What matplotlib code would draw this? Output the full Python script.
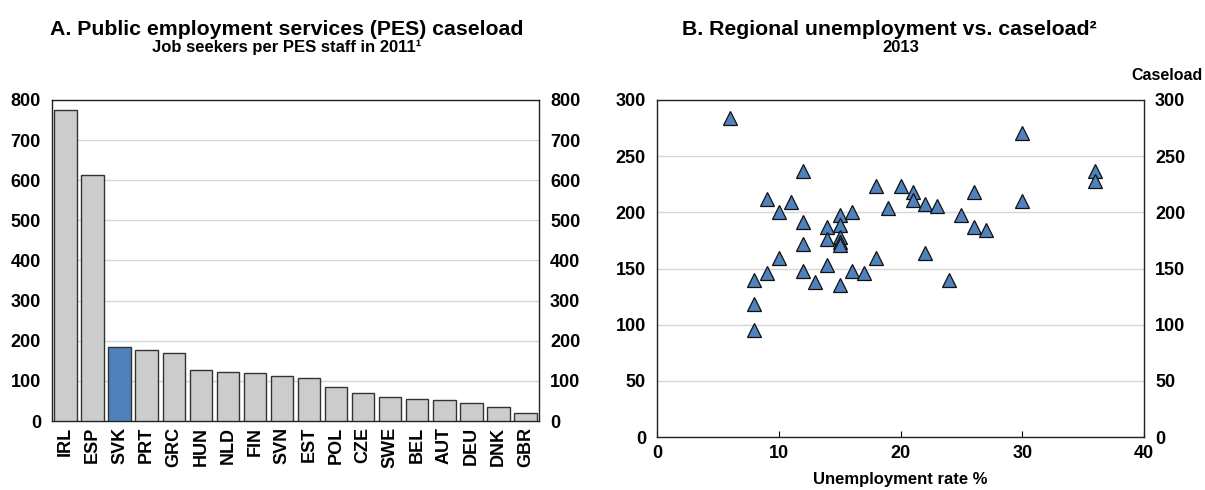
import matplotlib
matplotlib.use("Agg")
import matplotlib.pyplot as plt

plt.rcParams['font.family'] = ['Liberation Sans', 'DejaVu Sans']
plt.rcParams['font.weight'] = 'bold'

# Panel A data
countries = ["IRL", "ESP", "SVK", "PRT", "GRC", "HUN", "NLD", "FIN", "SVN", "EST",
             "POL", "CZE", "SWE", "BEL", "AUT", "DEU", "DNK", "GBR"]
caseload_pes = [776, 613, 185, 177, 169, 128, 123, 119, 111, 107,
                84, 70, 61, 54, 52, 46, 35, 20]
highlight = "SVK"

# Panel B data
unemp_rate = [6, 12, 9, 11, 10, 12, 14, 15, 15, 16, 14, 15, 15, 15, 12, 10, 14, 12, 16, 17,
              18, 9, 8, 13, 15, 8, 8, 18, 20, 19, 21, 21, 22, 23,
              30, 36, 36, 30, 25, 26, 26, 27, 22, 24]
regional_caseload = [284, 237, 212, 209, 200, 191, 187, 198, 189, 200, 176, 178, 174, 171, 172, 159, 153, 148, 148, 146,
                     159, 146, 140, 138, 135, 118, 95, 223, 223, 204, 218, 211, 207, 206,
                     271, 237, 228, 210, 198, 218, 187, 184, 164, 140]

GREY = "#cccccc"
BLUE = "#4f81bd"
GRID = "#d6d6d6"
W, H = 1205, 490
TICK_FS = 13

fig = plt.figure(figsize=(W / 100, H / 100), dpi=100)

# ---------- Panel A ----------
axA = fig.add_axes([52 / W, (H - 421) / H, (539 - 52) / W, (421 - 100) / H])
colors = [BLUE if c == highlight else GREY for c in countries]
axA.bar(range(len(countries)), caseload_pes, width=0.83, color=colors,
        edgecolor="#333333", linewidth=1.0, zorder=3)
axA.set_xlim(-0.5, len(countries) - 0.5)
axA.set_ylim(0, 800)
axA.set_yticks(range(0, 801, 100))
axA.set_xticks(range(len(countries)))
axA.set_xticklabels(countries, rotation=90, fontsize=TICK_FS, fontweight='bold')
axA.yaxis.grid(True, color=GRID, linewidth=1.0, zorder=0)
axA.set_axisbelow(True)
axA.tick_params(axis='both', length=0, labelsize=TICK_FS)
axA.tick_params(axis='y', labelright=True, right=False, pad=8)
axA.tick_params(axis='x', pad=4)
for lab in axA.get_yticklabels():
    lab.set_fontweight('bold')
for s in ['left', 'right', 'bottom', 'top']:
    axA.spines[s].set_color('#222222')
    axA.spines[s].set_linewidth(1.0)

fig.text(287 / W, 1 - 35 / H, "A. Public employment services (PES) caseload",
         ha='center', va='baseline', fontsize=15.3, fontweight='bold')
fig.text(287 / W, 1 - 52 / H, "Job seekers per PES staff in 2011¹",
         ha='center', va='baseline', fontsize=12, fontweight='bold')

# ---------- Panel B ----------
axB = fig.add_axes([657 / W, (H - 437) / H, (1144 - 657) / W, (437 - 100) / H])
axB.plot(unemp_rate, regional_caseload, linestyle='none', marker='^', markersize=10,
         markerfacecolor=BLUE, markeredgecolor='#111111', markeredgewidth=0.9, zorder=3)
axB.set_xlim(0, 40)
axB.set_ylim(0, 300)
axB.set_xticks(range(0, 41, 10))
axB.set_yticks(range(0, 301, 50))
axB.yaxis.grid(True, color=GRID, linewidth=1.0, zorder=0)
axB.set_axisbelow(True)
axB.tick_params(axis='y', length=0, labelsize=TICK_FS, labelright=True, pad=8)
axB.tick_params(axis='x', length=4, direction='in', labelsize=TICK_FS, pad=6)
for lab in axB.get_yticklabels() + axB.get_xticklabels():
    lab.set_fontweight('bold')
for s in ['left', 'right', 'bottom', 'top']:
    axB.spines[s].set_color('#222222')
    axB.spines[s].set_linewidth(1.0)
axB.set_xlabel("Unemployment rate %", fontsize=12, fontweight='bold', labelpad=7)

fig.text(889 / W, 1 - 35 / H, "B. Regional unemployment vs. caseload²",
         ha='center', va='baseline', fontsize=15.3, fontweight='bold')
fig.text(901 / W, 1 - 52 / H, "2013",
         ha='center', va='baseline', fontsize=12, fontweight='bold')
fig.text(1203 / W, 1 - 75 / H, "Caseload", ha='right', va='center',
         fontsize=11.5, fontweight='bold')

fig.savefig("out.png", dpi=100)
